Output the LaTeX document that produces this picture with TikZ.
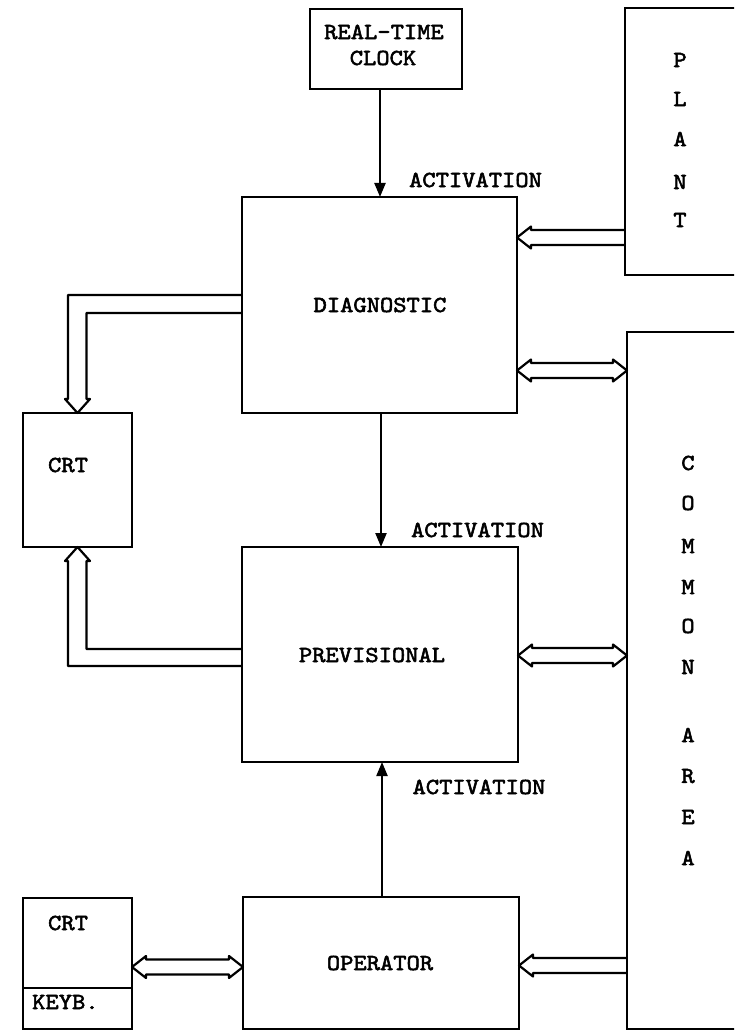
\documentclass[tikz,border=0pt]{standalone}
\usepackage{fontspec}
\newfontfamily\tw{lmmono10-regular.otf}[FakeBold=2.2]
\usetikzlibrary{arrows.meta,calc}
\newcommand\T[1]{\scalebox{1.1}[1]{#1}}
\tikzset{
  box/.style={draw, line width=2.5pt, inner sep=0pt, outer sep=0pt},
  lbl/.style={font={\tw\fontsize{23}{27}\selectfont}, inner sep=0pt},
  act/.style={line width=2.2pt, -{Triangle[length=14pt,width=11pt]}},
  bus/.style={line width=2.2pt, line join=round},
}
\newcommand\dbus[2]{%
  \draw[bus] let \p1=(#1), \p2=(#2) in
   (\x1,\y1) -- (\x1+14pt,\y1+11pt) -- (\x1+14pt,\y1+7.5pt) -- (\x2-14pt,\y1+7.5pt)
   -- (\x2-14pt,\y1+11pt) -- (\x2,\y1) -- (\x2-14pt,\y1-11pt) -- (\x2-14pt,\y1-7.5pt)
   -- (\x1+14pt,\y1-7.5pt) -- (\x1+14pt,\y1-11pt) -- cycle;}
\newcommand\lbus[2]{%
  \draw[bus] let \p1=(#1), \p2=(#2) in
   (\x2,\y1+7.5pt) -- (\x1+14pt,\y1+7.5pt) -- (\x1+14pt,\y1+11pt) -- (\x1,\y1)
   -- (\x1+14pt,\y1-11pt) -- (\x1+14pt,\y1-7.5pt) -- (\x2,\y1-7.5pt);}
\begin{document}
\begin{tikzpicture}[x=1pt,y=-1pt]
\useasboundingbox (0,0) rectangle (734,1032);
\clip (0,0) rectangle (734,1032);

% boxes
\node[box, minimum width=152pt, minimum height=80pt] (clock) at (386,49) {};
\node[box, minimum width=140pt, minimum height=267pt] (plant) at (695,141.5) {};
\node[box, minimum width=275pt, minimum height=216pt] (diag) at (379.5,305) {};
\node[box, minimum width=109pt, minimum height=134pt] (crt1) at (77.5,480) {};
\node[box, minimum width=276pt, minimum height=215pt] (prev) at (380,654.5) {};
\node[box, minimum width=140pt, minimum height=697pt] (common) at (697,680.5) {};
\node[box, minimum width=276pt, minimum height=132pt] (oper) at (381,963) {};
\node[box, minimum width=109pt, minimum height=131pt] (crtk) at (77.5,963.5) {};
\draw[box] (crtk.west |- 0,988) -- (crtk.east |- 0,988);

% texts
\node[lbl] (tdiag) at (380,305) {\T{DIAGNOSTIC}};
\node[lbl] (tprev) at (372,655) {\T{PREVISIONAL}};
\node[lbl] (toper) at (380,963) {\T{OPERATOR}};
\node[lbl] (tclock1) at (384,32) {\T{REAL-TIME}};
\node[lbl] (tclock2) at (383,58) {\T{CLOCK}};
\node[lbl] (tcrt1) at (68,465) {\T{CRT}};
\node[lbl] (tcrt2) at (68,923) {\T{CRT}};
\node[lbl, anchor=west] (tkeyb) at (32,1002) {\T{KEYB.}};
\node[lbl] (act1) at (475.5,180) {\T{ACTIVATION}};
\node[lbl] (act2) at (477.5,530) {\T{ACTIVATION}};
\node[lbl] (act3) at (479,787) {\T{ACTIVATION}};
\foreach \c/\yy [count=\i] in {P/60,L/99,A/139,N/182,T/220}
  \node[lbl] (pl\i) at (680,\yy) {\T{\c}};
\foreach \c/\yy [count=\i] in {C/463,O/503,M/546,M/587,O/626,N/667,A/735,R/776,E/817,A/858}
  \node[lbl] (ca\i) at (688,\yy) {\T{\c}};

% activation arrows
\draw[act] (clock.south -| 380,0) -- (diag.north -| 380,0);
\draw[act] (diag.south -| 381,0) -- (prev.north -| 381,0);
\draw[act] (oper.north -| 382,0) -- (prev.south -| 382,0);

% buses
\lbus{diag.east |- 0,237.5}{plant.west}
\dbus{diag.east |- 0,370.5}{common.west |- 0,370.5}
\dbus{prev.east |- 0,655.5}{common.west |- 0,655.5}
\lbus{oper.east |- 0,965.5}{common.west}
\dbus{crtk.east |- 0,967}{oper.west |- 0,967}

\draw[bus] (diag.west |- 0,295) -- (68,295) -- (68,399) -- (65,399) -- (crt1.north)
  -- (90,399) -- (86.5,399) -- (86.5,313) -- (diag.west |- 0,313);
\draw[bus] (prev.west |- 0,666) -- (68,666) -- (68,561) -- (65,561) -- (crt1.south)
  -- (90,561) -- (86.5,561) -- (86.5,649) -- (prev.west |- 0,649);
\end{tikzpicture}
\end{document}
